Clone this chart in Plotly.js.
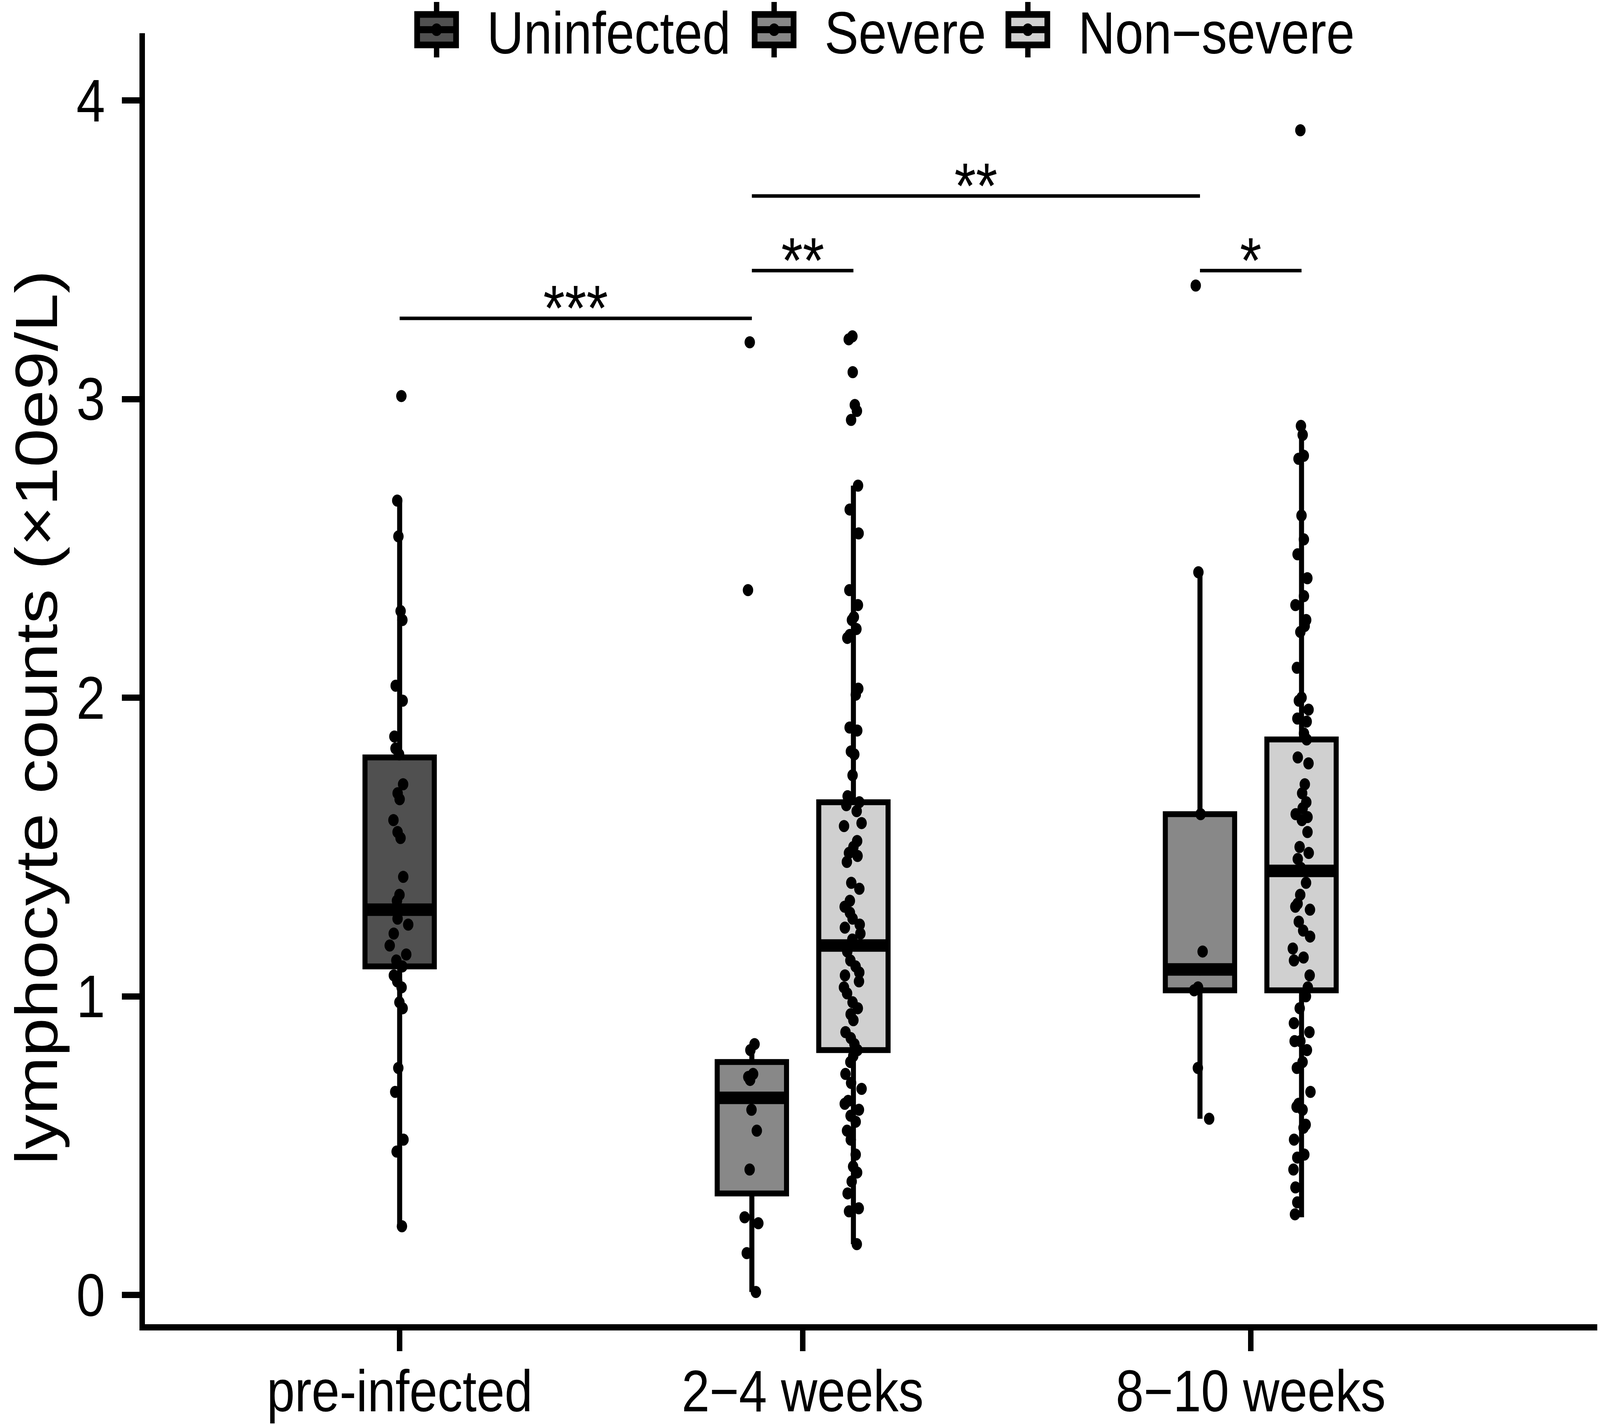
<!DOCTYPE html>
<html>
<head>
<meta charset="utf-8">
<script src="https://cdn.plot.ly/plotly-3.0.1.min.js"></script>
<style>
html, body { margin: 0; padding: 0; background: #fff; overflow: hidden; }
#wrap { position: relative; overflow: hidden; }
#chart { position: absolute; left: 0; top: 0; width: 4768px; height: 3648px; transform-origin: 0 0; }
</style>
</head>
<body>
<div id="wrap"><div id="chart"></div></div>
<script>

/* values */
var categories = ['pre-infected', '2\u22124 weeks', '8\u221210 weeks'];
var categoryPos = [1, 2, 3.112];
var groups = ['Uninfected', 'Severe', 'Non\u2212severe'];
var groupColors = ['#505050', '#888888', '#d0d0d0'];
var groupDodge = [0, -0.126, 0.126];
var yTitle = 'lymphocyte counts (\u00d710e9/L)';

var uninfCats = [0];
var uninfQ1 = [1.10];
var uninfMedian = [1.29];
var uninfQ3 = [1.80];
var uninfLower = [0.23];
var uninfUpper = [2.66];
var uninfPre = [3.01, 2.66, 2.54, 2.29, 2.26, 2.04, 1.99, 1.87, 1.83, 1.81, 1.71, 1.68, 1.66,
	1.59, 1.55, 1.53, 1.40, 1.34, 1.32, 1.29, 1.26, 1.24, 1.21, 1.17, 1.14, 1.12, 1.10, 1.07,
	1.05, 1.03, 0.98, 0.96, 0.76, 0.68, 0.52, 0.48, 0.23];

var severeCats = [1, 2];
var severeQ1 = [0.34, 1.02];
var severeMedian = [0.66, 1.09];
var severeQ3 = [0.78, 1.61];
var severeLower = [0.01, 0.59];
var severeUpper = [0.84, 2.42];
var severeWk2 = [3.19, 2.36, 0.84, 0.82, 0.74, 0.73, 0.72, 0.66, 0.62, 0.55, 0.42, 0.26, 0.24, 0.14, 0.01];
var severeWk8 = [3.38, 2.42, 1.61, 1.15, 1.09, 1.03, 1.02, 0.76, 0.59];

var nonsevCats = [1, 2];
var nonsevQ1 = [0.82, 1.02];
var nonsevMedian = [1.17, 1.42];
var nonsevQ3 = [1.65, 1.86];
var nonsevLower = [0.17, 0.26];
var nonsevUpper = [2.71, 2.91];
var nonsevWk2 = [3.21, 3.20, 3.09, 2.98, 2.96, 2.93, 2.71, 2.63, 2.55, 2.36, 2.31, 2.27, 2.26,
	2.23, 2.21, 2.20, 2.03, 2.01, 1.90, 1.89, 1.82, 1.81, 1.74, 1.67, 1.65, 1.64, 1.62, 1.58,
	1.57, 1.52, 1.50, 1.48, 1.47, 1.45, 1.38, 1.36, 1.32, 1.30, 1.28, 1.26, 1.24, 1.23, 1.21,
	1.19, 1.17, 1.15, 1.12, 1.10, 1.08, 1.07, 1.05, 1.03, 1.01, 0.98, 0.96, 0.94, 0.92, 0.88,
	0.86, 0.84, 0.82, 0.80, 0.78, 0.74, 0.71, 0.69, 0.65, 0.64, 0.62, 0.60, 0.58, 0.55, 0.52,
	0.47, 0.43, 0.41, 0.38, 0.34, 0.29, 0.28, 0.17];
var nonsevWk8 = [3.90, 2.91, 2.88, 2.81, 2.80, 2.61, 2.53, 2.48, 2.40, 2.34, 2.31, 2.26, 2.24,
	2.22, 2.10, 2.00, 1.99, 1.96, 1.93, 1.92, 1.88, 1.86, 1.80, 1.78, 1.71, 1.68, 1.65, 1.63,
	1.61, 1.60, 1.59, 1.55, 1.50, 1.48, 1.46, 1.43, 1.42, 1.38, 1.34, 1.31, 1.30, 1.29, 1.25,
	1.22, 1.20, 1.16, 1.13, 1.12, 1.07, 1.03, 1.00, 0.96, 0.91, 0.88, 0.85, 0.85, 0.82, 0.78,
	0.76, 0.68, 0.64, 0.63, 0.62, 0.57, 0.56, 0.52, 0.47, 0.46, 0.42, 0.36, 0.31, 0.27];

/* significance brackets: [group, category] at each end */
var sigLabels = ['***', '**', '**', '*'];
var sigLevel = [3.27, 3.43, 3.68, 3.43];
var sigFrom = [[0, 0], [1, 1], [1, 1], [1, 2]];
var sigTo = [[1, 1], [2, 1], [1, 2], [2, 2]];

var FONT = 'Liberation Sans, Arial, sans-serif';
var BOXW = 0.172;
var W = 4768, H = 3648;

function boxPos(g, c) {
	return categoryPos[c] + groupDodge[g];
}

function drawChart() {
	// stretch the 4768x3648 drawing over the whole css viewport of the window
	var vw = window.innerWidth || W;
	var vh = window.innerHeight || H;
	var wrap = document.getElementById('wrap');
	wrap.style.width = vw + 'px';
	wrap.style.height = vh + 'px';
	var div = document.getElementById('chart');
	div.style.transform = 'scale(' + (vw / W) + ',' + (vh / H) + ')';

	var stats = [
		{cats: uninfCats, q1: uninfQ1, med: uninfMedian, q3: uninfQ3, lo: uninfLower, hi: uninfUpper, pts: [uninfPre]},
		{cats: severeCats, q1: severeQ1, med: severeMedian, q3: severeQ3, lo: severeLower, hi: severeUpper, pts: [severeWk2, severeWk8]},
		{cats: nonsevCats, q1: nonsevQ1, med: nonsevMedian, q3: nonsevQ3, lo: nonsevLower, hi: nonsevUpper, pts: [nonsevWk2, nonsevWk8]}
	];

	var traces = [];
	var shapes = [];
	var annotations = [];

	stats.forEach(function(s, g) {
		var xs = s.cats.map(function(c) { return boxPos(g, c); });
		traces.push({
			type: 'box',
			name: groups[g],
			x: xs,
			y: s.pts,
			q1: s.q1,
			median: s.med,
			q3: s.q3,
			lowerfence: s.lo,
			upperfence: s.hi,
			boxpoints: 'all',
			jitter: 0.3,
			pointpos: 0,
			width: BOXW,
			whiskerwidth: 0,
			fillcolor: groupColors[g],
			line: {color: 'black', width: 15},
			marker: {color: 'black', size: 31},
			showlegend: false,
			hoverinfo: 'skip'
		});
		// thicker median bar, as ggplot draws it
		xs.forEach(function(x, i) {
			shapes.push({
				type: 'line', xref: 'x', yref: 'y', layer: 'above',
				x0: x - BOXW / 2, x1: x + BOXW / 2, y0: s.med[i], y1: s.med[i],
				line: {color: 'black', width: 32}
			});
		});
	});

	sigLabels.forEach(function(lab, i) {
		var xa = boxPos(sigFrom[i][0], sigFrom[i][1]);
		var xb = boxPos(sigTo[i][0], sigTo[i][1]);
		shapes.push({
			type: 'line', xref: 'x', yref: 'y',
			x0: xa, x1: xb, y0: sigLevel[i], y1: sigLevel[i],
			line: {color: 'black', width: 9}
		});
		annotations.push({
			xref: 'x', yref: 'y', x: (xa + xb) / 2, y: sigLevel[i],
			text: lab, showarrow: false, xanchor: 'center', yanchor: 'bottom',
			yshift: -68, font: {family: FONT, size: 165, color: 'black'}
		});
	});

	// legend drawn by hand so the keys match the big ggplot keys
	var keyX = [0.2008, 0.4332, 0.6079];
	var keyY = 1.0027;
	var textY = 1.0003;
	groups.forEach(function(name, g) {
		var base = {xref: 'paper', yref: 'paper', xsizemode: 'pixel', ysizemode: 'pixel',
			xanchor: keyX[g], yanchor: keyY};
		shapes.push(Object.assign({type: 'line', x0: 0, x1: 0, y0: -71, y1: 71,
			line: {color: 'black', width: 16}}, base));
		shapes.push(Object.assign({type: 'rect', x0: -58, x1: 58, y0: -39, y1: 39,
			fillcolor: groupColors[g], line: {color: 'black', width: 17}}, base));
		shapes.push(Object.assign({type: 'line', x0: -58, x1: 58, y0: 0, y1: 0,
			line: {color: 'black', width: 18}}, base));
		shapes.push(Object.assign({type: 'circle', x0: -16, x1: 16, y0: -16, y1: 16,
			fillcolor: 'black', line: {color: 'black', width: 0}}, base));
		annotations.push({
			xref: 'paper', yref: 'paper', x: keyX[g], y: textY, xshift: 148,
			text: name, showarrow: false, xanchor: 'left', yanchor: 'middle',
			font: {family: FONT, size: 152, color: 'black'}
		});
	});

	// y title sits a little below the panel centre in the original
	annotations.push({
		xref: 'paper', yref: 'paper', x: -0.0748, y: 0.470,
		text: yTitle, textangle: -90, showarrow: false,
		xanchor: 'center', yanchor: 'middle',
		font: {family: FONT, size: 178, color: 'black'}
	});

	var layout = {
		width: W,
		height: H,
		margin: {l: 432, r: 8, t: 85, b: 258},
		paper_bgcolor: 'white',
		plot_bgcolor: 'white',
		showlegend: false,
		boxmode: 'overlay',
		font: {family: FONT, color: 'black'},
		xaxis: {
			range: [0.368, 3.972],
			tickvals: categoryPos,
			ticktext: categories,
			showline: true, linewidth: 16, linecolor: 'black',
			ticks: 'outside', ticklen: 53, tickwidth: 16, tickcolor: 'black',
			ticklabelstandoff: -26,
			showgrid: false, zeroline: false,
			tickfont: {family: FONT, size: 150, color: 'black'}
		},
		yaxis: {
			range: [-0.098, 4.225],
			tickvals: [0, 1, 2, 3, 4],
			showline: true, linewidth: 16, linecolor: 'black',
			ticks: 'outside', ticklen: 53, tickwidth: 16, tickcolor: 'black',
			ticklabelstandoff: 19,
			showgrid: false, zeroline: false,
			tickfont: {family: FONT, size: 154, color: 'black'}
		},
		shapes: shapes,
		annotations: annotations
	};

	Plotly.newPlot(div, traces, layout, {staticPlot: true});
}

window.onload = drawChart;
</script>
</body>
</html>
